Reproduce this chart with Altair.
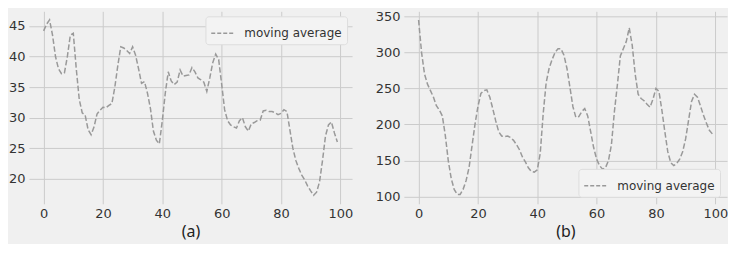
import altair as alt
import pandas as pd

x_idx = list(range(100))

series_a = [
    44.2, 45.3, 46.0, 43.5, 40.0, 38.0, 37.2, 37.3, 40.0, 43.5,
    43.8, 38.0, 33.0, 30.8, 30.4, 28.0, 27.2, 28.5, 30.6, 31.2,
    31.7, 31.6, 32.0, 32.3, 35.0, 38.5, 41.6, 41.4, 41.0, 40.5,
    41.6, 40.2, 38.0, 35.6, 35.9, 34.0, 31.5, 27.8, 26.3, 25.7,
    29.5, 34.0, 37.5, 36.0, 35.4, 35.8, 37.8, 36.8, 36.9, 37.0,
    38.2, 37.5, 36.5, 36.2, 35.8, 34.3, 36.5, 39.0, 40.4, 39.5,
    35.5, 31.3, 29.5, 28.8, 28.5, 28.3, 29.5, 30.0, 28.5, 27.8,
    29.0, 29.2, 29.5, 29.6, 31.1, 31.2, 31.0, 31.0, 30.8, 30.5,
    30.7, 31.3, 31.0, 28.0, 25.0, 23.0, 21.7, 20.6, 19.8, 18.8,
    18.0, 17.3, 17.8, 19.5, 23.0, 27.0, 28.8, 29.3, 27.5, 26.0,
]

series_b = [
    345, 300, 270, 256, 247, 238, 226, 220, 212, 185,
    150, 125, 110, 103, 103, 110, 122, 140, 170, 200,
    225, 243, 247, 248, 238, 222, 205, 190, 184, 183,
    184, 182, 178, 172, 165, 155, 148, 140, 135, 134,
    137, 160, 215, 258, 278, 290, 300, 305, 305, 296,
    278, 252, 225, 210, 211, 218, 222, 212, 190, 168,
    152, 143, 138, 140, 150, 172, 218, 255, 295, 305,
    315, 334, 310, 270, 242, 236, 233, 228, 224, 235,
    250, 246, 220, 190, 162, 147, 143, 146, 152, 162,
    180, 206, 232, 242, 238, 226, 213, 202, 192, 187,
]

x_ticks = [0, 20, 40, 60, 80, 100]
y_ticks_a = [20, 25, 30, 35, 40, 45]
y_ticks_b = [100, 150, 200, 250, 300, 350]
legend_label = "moving average"
captions = ["(a)", "(b)"]

df_a = pd.DataFrame({"x": x_idx, "value": series_a, "series": legend_label})
df_b = pd.DataFrame({"x": x_idx, "value": series_b, "series": legend_label})

W, H = 324, 193
LINE_COLOR = "#999999"


def panel(df, yticks, ydomain, caption, legend_orient, legend_offset):
    return (
        alt.Chart(df)
        .mark_line(strokeDash=[5.5, 2.4], strokeWidth=1.5, clip=True)
        .encode(
            x=alt.X(
                "x:Q",
                scale=alt.Scale(domain=[-4.95, 103.95], nice=False, zero=False),
                axis=alt.Axis(values=x_ticks, title=caption, format="d"),
            ),
            y=alt.Y(
                "value:Q",
                scale=alt.Scale(domain=ydomain, nice=False, zero=False),
                axis=alt.Axis(values=yticks, title=None, format="d"),
            ),
            color=alt.Color(
                "series:N",
                scale=alt.Scale(range=[LINE_COLOR]),
                legend=alt.Legend(
                    title=None,
                    orient=legend_orient,
                    offset=legend_offset,
                    symbolType="stroke",
                    symbolDash=[4, 2],
                    symbolStrokeWidth=1.5,
                    symbolSize=500,
                    labelFontSize=12,
                    labelFont="DejaVu Sans",
                    labelColor="#333333",
                    fillColor="#f3f3f3",
                    strokeColor="#dddddd",
                    padding=5,
                    cornerRadius=3,
                    labelOffset=10,
                ),
            ),
        )
        .properties(width=W, height=H)
    )


pa = panel(df_a, y_ticks_a, [15.9, 47.4], captions[0], "top-right", 5)
pb = panel(df_b, y_ticks_b, [90, 357], captions[1], "bottom-right", 7)

chart = (
    alt.hconcat(pa, pb, spacing=22)
    .resolve_scale(y="independent", color="independent")
    .properties(background="#f0f0f0", padding={"left": 0, "top": 2, "right": 0, "bottom": 4})
    .configure_view(stroke=None, fill="#f0f0f0")
    .configure_axis(
        grid=True,
        gridColor="#cbcbcb",
        gridWidth=1,
        domain=False,
        ticks=False,
        labelFont="DejaVu Sans",
        labelFontSize=13,
        labelColor="#333333",
        labelPadding=4,
        titleFont="Noto Sans",
        titleFontSize=16,
        titleFontWeight="normal",
        titleColor="#222222",
        titlePadding=3,
    )
)

chart.save("out.html", embed_options={"renderer": "svg", "actions": False})
